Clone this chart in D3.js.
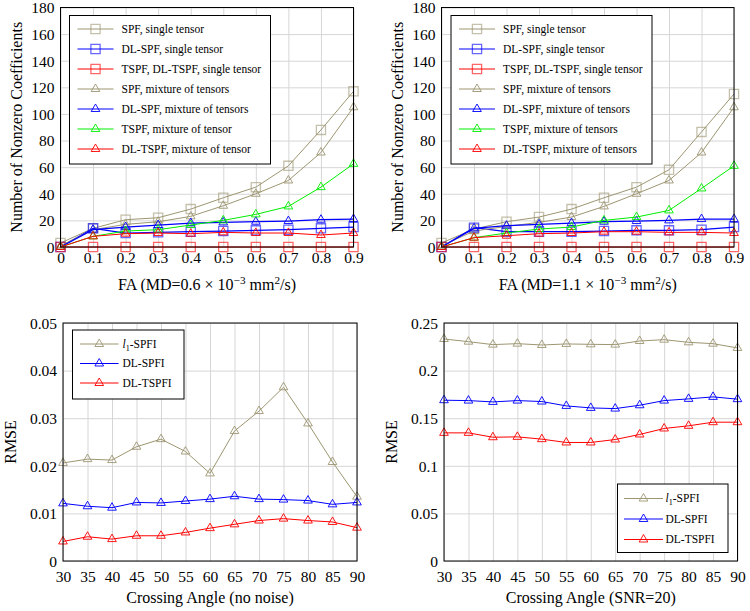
<!DOCTYPE html>
<html>
<head>
<meta charset="utf-8">
<script src="https://cdn.jsdelivr.net/npm/d3@7/dist/d3.min.js"></script>
<style>
  html, body { margin: 0; padding: 0; background: #fff; }
  svg { display: block; }
  svg text { font-family: "Liberation Serif", "Times New Roman", serif !important; fill: #000; }
</style>
</head>
<body>
<svg id="chart" width="750" height="611"></svg>
<script>
// ---------- data ----------
const faValues = [0, 0.1, 0.2, 0.3, 0.4, 0.5, 0.6, 0.7, 0.8, 0.9];
const faTickLabels = ["0", "0.1", "0.2", "0.3", "0.4", "0.5", "0.6", "0.7", "0.8", "0.9"];
const nzTicks = [0, 20, 40, 60, 80, 100, 120, 140, 160, 180];

// Top-left panel (MD = 0.6e-3)
const tlSPFsingle    = [3, 14, 20.5, 22, 28.5, 37, 45, 61, 88, 117];
const tlDLSPFsingle  = [0, 14, 10.5, 11, 11.5, 12, 12.5, 13, 14, 15];
const tlTSPFsingle   = [0, 0, 0, 0, 0, 0, 0, 0, 0, 0];
const tlSPFmix       = [1, 13, 17, 19, 23, 31, 40, 50, 71, 105];
const tlDLSPFmix     = [0, 13, 15, 16.5, 18, 18.5, 19, 19.5, 20.5, 21];
const tlTSPFmix      = [0, 8, 12, 13, 16.5, 20, 24.5, 30.5, 45, 62.5];
const tlDLTSPFmix    = [0, 8, 10, 10.5, 10, 11, 10.5, 10.5, 9, 10.5];

// Top-right panel (MD = 1.1e-3)
const trSPFsingle    = [3, 13.5, 19, 22.5, 28.5, 37, 45, 58, 86.5, 115];
const trDLSPFsingle  = [0, 14.5, 11.5, 11.5, 11.5, 12, 12.5, 12.5, 13, 15];
const trTSPFsingle   = [0, 0, 0, 0, 0, 0, 0, 0, 0, 0];
const trSPFmix       = [1, 12, 15.5, 18.5, 22.5, 30.5, 40, 50, 71, 105];
const trDLSPFmix     = [0, 14, 16, 17, 18, 19, 19.5, 20, 21, 21];
const trTSPFmix      = [0, 7, 10.5, 13.5, 15, 20, 22.5, 27.5, 44, 61];
const trDLTSPFmix    = [0, 7, 8.5, 10, 10.5, 11.5, 11.5, 11, 11, 10.5];

// Bottom panels: crossing angle
const angles = [30, 35, 40, 45, 50, 55, 60, 65, 70, 75, 80, 85, 90];
const blTicks = [0, 0.01, 0.02, 0.03, 0.04, 0.05];
const blTickLabels = ["0", "0.01", "0.02", "0.03", "0.04", "0.05"];
const brTicks = [0, 0.05, 0.1, 0.15, 0.2, 0.25];
const brTickLabels = ["0", "0.05", "0.1", "0.15", "0.2", "0.25"];

const blL1SPFI  = [0.0206, 0.0214, 0.0212, 0.0240, 0.0256, 0.0230, 0.0184, 0.0273, 0.0315, 0.0365, 0.0289, 0.0208, 0.0135];
const blDLSPFI  = [0.0121, 0.0115, 0.0112, 0.0123, 0.0122, 0.0126, 0.0130, 0.0136, 0.0130, 0.0129, 0.0127, 0.0119, 0.0123];
const blDLTSPFI = [0.0041, 0.0051, 0.0046, 0.0053, 0.0053, 0.0060, 0.0069, 0.0077, 0.0085, 0.0089, 0.0085, 0.0082, 0.0070];

const brL1SPFI  = [0.2332, 0.2304, 0.2273, 0.2283, 0.2269, 0.2280, 0.2276, 0.2273, 0.2311, 0.2325, 0.2297, 0.2283, 0.2238];
const brDLSPFI  = [0.1689, 0.1685, 0.1671, 0.1685, 0.1675, 0.1629, 0.1608, 0.1601, 0.1636, 0.1685, 0.1703, 0.1724, 0.1700];
const brDLTSPFI = [0.1346, 0.1346, 0.1300, 0.1304, 0.1280, 0.1245, 0.1245, 0.1276, 0.1329, 0.1392, 0.1420, 0.1458, 0.1458];

// ---------- styles ----------
const OLIVE = "#9d9672", BLUE = "#0000ff", RED = "#ff0000", GREEN = "#00ee00";
const GRID = "#d6d6d6";
const SERIF = '"Liberation Serif", "Times New Roman", serif';

const svg = d3.select("#chart");

function markerPath(type, r) {
  if (type === "square") {
    return `M${-r},${-r}H${r}V${r}H${-r}Z`;
  }
  const a = r, h = r * Math.sqrt(3) / 2;
  return `M0,${-a}L${h},${a / 2}L${-h},${a / 2}Z`;
}

function drawMarker(g, type, color, cx, cy) {
  if (type === "square") {
    g.append("path").attr("d", markerPath("square", 4.6))
      .attr("transform", `translate(${cx},${cy})`)
      .attr("fill", "none").attr("stroke", color)
      .attr("stroke-width", 1.3).attr("stroke-opacity", 0.6);
  } else {
    g.append("path").attr("d", markerPath("triangle", 5))
      .attr("transform", `translate(${cx},${cy})`)
      .attr("fill", "none").attr("stroke", color)
      .attr("stroke-width", 1).attr("stroke-opacity", 0.9);
  }
}

function addRichText(sel, parts, baseSize) {
  parts.forEach(p => {
    const t = sel.append("tspan").text(p.t);
    if (p.sup) {
      t.style("font-size", (baseSize * 0.7) + "px").attr("dy", -baseSize * 0.38);
    } else if (p.sub) {
      t.style("font-size", (baseSize * 0.7) + "px").attr("dy", baseSize * 0.25);
    } else if (p.back) {
      t.attr("dy", p.back);
    }
    if (p.italic) t.style("font-style", "italic");
  });
}

function drawPanel(cfg) {
  const { x0, x1, y0, y1 } = cfg;
  const g = svg.append("g");
  const x = d3.scaleLinear().domain(cfg.xDomain).range([x0, x1]);
  const y = d3.scaleLinear().domain(cfg.yDomain).range([y1, y0]);

  const xAxis = d3.axisBottom(x).tickValues(cfg.xTicks)
    .tickFormat((d, i) => cfg.xTickLabels[i]).tickSize(-(y1 - y0)).tickPadding(0);
  const gx = g.append("g").attr("transform", `translate(0,${y1})`).call(xAxis);
  gx.attr("font-family", null).attr("font-size", null);
  gx.select(".domain").remove();
  gx.selectAll(".tick line").attr("stroke", GRID).attr("stroke-width", 1);
  gx.selectAll(".tick text").attr("dy", null).attr("y", cfg.xTickBase)
    .style("font-size", "15.5px").style("font-family", SERIF).attr("fill", "#000");

  const yAxis = d3.axisLeft(y).tickValues(cfg.yTicks)
    .tickFormat((d, i) => cfg.yTickLabels[i]).tickSize(-(x1 - x0)).tickPadding(6);
  const gy = g.append("g").attr("transform", `translate(${x0},0)`).call(yAxis);
  gy.attr("font-family", null).attr("font-size", null);
  gy.select(".domain").remove();
  gy.selectAll(".tick line").attr("stroke", GRID).attr("stroke-width", 1);
  gy.selectAll(".tick text").attr("dy", "0.34em").attr("x", -6)
    .style("font-size", "15.5px").style("font-family", SERIF).attr("fill", "#000");

  const line = d3.line().x(d => x(d[0])).y(d => y(d[1]));
  const plotG = g.append("g");
  cfg.series.forEach(s => {
    const pts = cfg.xValues.map((xv, i) => [xv, s.values[i]]);
    plotG.append("path").datum(pts).attr("d", line)
      .attr("fill", "none").attr("stroke", s.color).attr("stroke-width", s.width || 1);
    pts.forEach(p => drawMarker(plotG, s.marker, s.color, x(p[0]), y(p[1])));
  });

  g.append("rect").attr("x", x0).attr("y", y0).attr("width", x1 - x0).attr("height", y1 - y0)
    .attr("fill", "none").attr("stroke", "#000").attr("stroke-width", 1);

  const xl = g.append("text").attr("x", (x0 + x1) / 2).attr("y", cfg.xLabelBase)
    .attr("text-anchor", "middle").style("font-size", "16px");
  addRichText(xl, cfg.xLabel, 16);

  g.append("text")
    .attr("transform", `translate(${cfg.yLabelBase},${(y0 + y1) / 2}) rotate(-90)`)
    .attr("text-anchor", "middle").style("font-size", "16px").text(cfg.yLabel);

  const L = cfg.legend;
  const lg = g.append("g");
  lg.append("rect").attr("x", L.x).attr("y", L.y).attr("width", L.w).attr("height", L.h)
    .attr("fill", "#fff").attr("stroke", "#000").attr("stroke-width", 1);
  cfg.series.forEach((s, i) => {
    const cy = L.y + L.first + i * L.step;
    lg.append("line").attr("x1", L.x + L.l1).attr("x2", L.x + L.l2)
      .attr("y1", cy).attr("y2", cy).attr("stroke", s.color).attr("stroke-width", s.width || 1);
    drawMarker(lg, s.marker, s.color, L.x + (L.l1 + L.l2) / 2, cy);
    const t = lg.append("text").attr("x", L.x + L.tx).attr("y", cy).attr("dy", "0.33em")
      .style("font-size", "11.5px");
    addRichText(t, s.label, 11.5);
  });
}

function faLabel(md) {
  return [
    { t: "FA (MD=" + md + " × 10" },
    { t: "−3", sup: true },
    { t: " mm", back: 16 * 0.38 },
    { t: "2", sup: true },
    { t: "/s)", back: 16 * 0.38 }
  ];
}
const l1Label = [{ t: "l", italic: true }, { t: "1", sub: true }, { t: "-SPFI", back: -11.5 * 0.25 }];

const topLegend = (x) => ({ x: x, y: 15.5, w: 201, h: 148.5, first: 13.5, step: 20, l1: 8, l2: 44, tx: 52 });

function topSeries(a) {
  return [
    { values: a[0], color: OLIVE, marker: "square",   label: [{ t: "SPF, single tensor" }] },
    { values: a[1], color: BLUE,  marker: "square",   label: [{ t: "DL-SPF, single tensor" }], width: 1.2 },
    { values: a[2], color: RED,   marker: "square",   label: [{ t: "TSPF, DL-TSPF, single tensor" }] },
    { values: a[3], color: OLIVE, marker: "triangle", label: [{ t: "SPF, mixture of tensors" }] },
    { values: a[4], color: BLUE,  marker: "triangle", label: [{ t: "DL-SPF, mixture of tensors" }], width: 1.2 },
    { values: a[5], color: GREEN, marker: "triangle", label: [{ t: a[7] }] },
    { values: a[6], color: RED,   marker: "triangle", label: [{ t: a[8] }] }
  ];
}

drawPanel({
  x0: 60.5, x1: 353.5, y0: 7.5, y1: 247,
  xDomain: [0, 0.9], yDomain: [0, 180],
  xValues: faValues, xTicks: faValues, xTickLabels: faTickLabels,
  yTicks: nzTicks, yTickLabels: nzTicks.map(String),
  xTickBase: 16, xLabelBase: 290, yLabelBase: 22,
  xLabel: faLabel("0.6"), yLabel: "Number of Nonzero Coefficients",
  legend: topLegend(69.5),
  series: topSeries([tlSPFsingle, tlDLSPFsingle, tlTSPFsingle, tlSPFmix, tlDLSPFmix, tlTSPFmix, tlDLTSPFmix,
    "TSPF, mixture of tensor", "DL-TSPF, mixture of tensor"])
});

drawPanel({
  x0: 441.5, x1: 734, y0: 7.5, y1: 247,
  xDomain: [0, 0.9], yDomain: [0, 180],
  xValues: faValues, xTicks: faValues, xTickLabels: faTickLabels,
  yTicks: nzTicks, yTickLabels: nzTicks.map(String),
  xTickBase: 16, xLabelBase: 290, yLabelBase: 403,
  xLabel: faLabel("1.1"), yLabel: "Number of Nonzero Coefficients",
  legend: topLegend(451),
  series: topSeries([trSPFsingle, trDLSPFsingle, trTSPFsingle, trSPFmix, trDLSPFmix, trTSPFmix, trDLTSPFmix,
    "TSPF, mixture of tensors", "DL-TSPF, mixture of tensors"])
});

function bottomSeries(a) {
  return [
    { values: a[0], color: OLIVE, marker: "triangle", label: l1Label },
    { values: a[1], color: BLUE,  marker: "triangle", label: [{ t: "DL-SPFI" }] },
    { values: a[2], color: RED,   marker: "triangle", label: [{ t: "DL-TSPFI" }] }
  ];
}

drawPanel({
  x0: 63, x1: 357, y0: 323, y1: 561,
  xDomain: [30, 90], yDomain: [0, 0.05],
  xValues: angles, xTicks: angles, xTickLabels: angles.map(String),
  yTicks: blTicks, yTickLabels: blTickLabels,
  xTickBase: 20.5, xLabelBase: 603, yLabelBase: 16,
  xLabel: [{ t: "Crossing Angle (no noise)" }], yLabel: "RMSE",
  legend: { x: 72.5, y: 330, w: 111.5, h: 69, first: 14, step: 19.5, l1: 7.5, l2: 46, tx: 50 },
  series: bottomSeries([blL1SPFI, blDLSPFI, blDLTSPFI])
});

drawPanel({
  x0: 444, x1: 737.5, y0: 323, y1: 561,
  xDomain: [30, 90], yDomain: [0, 0.25],
  xValues: angles, xTicks: angles, xTickLabels: angles.map(String),
  yTicks: brTicks, yTickLabels: brTickLabels,
  xTickBase: 20.5, xLabelBase: 603, yLabelBase: 397,
  xLabel: [{ t: "Crossing Angle (SNR=20)" }], yLabel: "RMSE",
  legend: { x: 617.5, y: 484, w: 110.5, h: 68.5, first: 14.5, step: 20.5, l1: 6.5, l2: 45.5, tx: 48 },
  series: bottomSeries([brL1SPFI, brDLSPFI, brDLTSPFI])
});
</script>
</body>
</html>
